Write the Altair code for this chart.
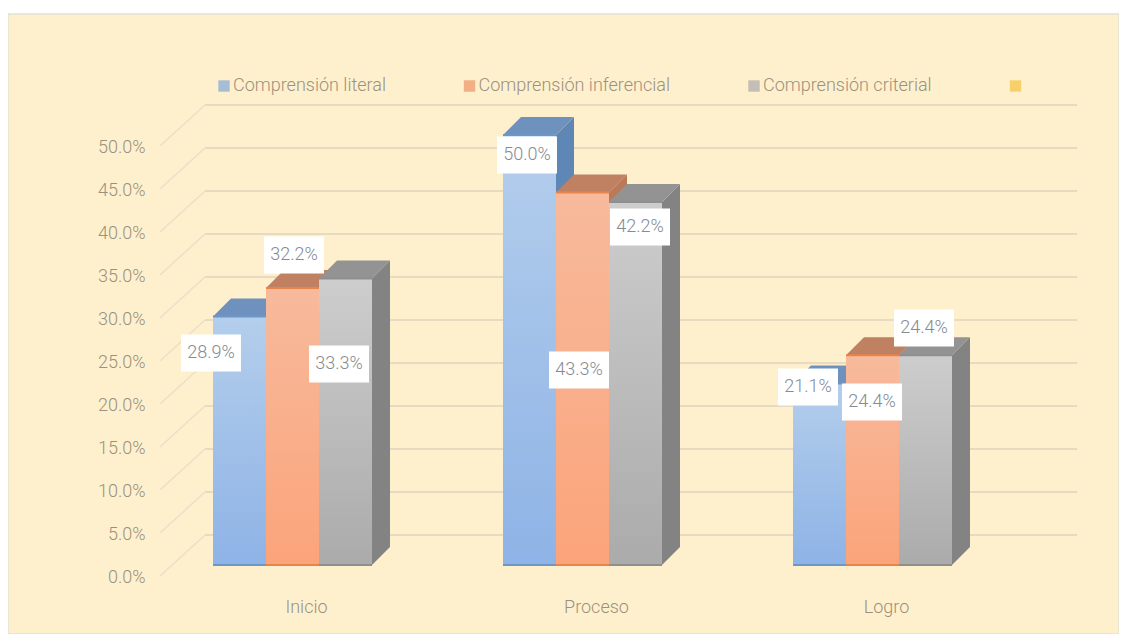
import altair as alt
import pandas as pd

# ---- values ----
categories = ["Inicio", "Proceso", "Logro"]
literal = [0.289, 0.50, 0.211]
inferencial = [0.322, 0.433, 0.244]
criterial = [0.333, 0.422, 0.244]
series_names = ["Comprensión literal", "Comprensión inferencial", "Comprensión criterial", " "]
y_ticks = [0.0, 0.05, 0.10, 0.15, 0.20, 0.25, 0.30, 0.35, 0.40, 0.45, 0.50]

# ---- layout (page pixels), separate from the values ----
WIDTH, HEIGHT, TOP = 1111, 620, 14
PX_PER_UNIT = 860.0
FRONT_ZERO = 576.0
BAR_ZERO = 565.0
BACK_ZERO = 535.0
BAR_LEFT = [213, 503, 793]
BAR_W = 53
DEPTH = 18
GRID_L, GRID_R, DIAG_L = 205, 1077, 160
CAT_CENTER = [306, 596, 886]
# label-box centre relative to each bar's top-centre
LABEL_DX = [[-28.5, -2.5, -11.5], [1.5, -3.5, -0.5], [-6.5, 4.5, -1.5]]
LABEL_DY = [[36.5, 20, 3.5], [-33, 177.4, 46.8], [85.4, 25, -27.2]]
BOX_W, BOX_H = 60, 37

FONT = "Roboto"
WEIGHT = 300
FS = 18
BG = "#FFF0CD"
GRID = "#E6DAC3"
DIAG = "#EBDFCB"
AXIS_TXT = "#9A917E"
LABEL_TXT = "#868A94"


def px(x):
    return x - 8


def py(p):
    return (FRONT_ZERO - p) / PX_PER_UNIT


lift = (FRONT_ZERO - BAR_ZERO) / PX_PER_UNIT
back = (FRONT_ZERO - BACK_ZERO) / PX_PER_UNIT
depth_y = DEPTH / PX_PER_UNIT

xs = alt.Scale(domain=[0, WIDTH], nice=False, zero=False)
ys = alt.Scale(domain=[py(TOP + HEIGHT), py(TOP)], nice=False, zero=False)

label_expr = "{" + ",".join(f"{px(c)}:'{n}'" for c, n in zip(CAT_CENTER, categories)) + "}[datum.value]"
x_axis_def = alt.Axis(
    values=[px(c) for c in CAT_CENTER], labelExpr=label_expr, domain=False, ticks=False,
    grid=False, offset=-27, labelPadding=0, labelBaseline="middle", labelAngle=0,
    labelFont=FONT, labelFontSize=FS, labelFontWeight=WEIGHT, labelColor=AXIS_TXT,
    labelOverlap=False, labelBound=False, labelFlush=False, title=None)
y_axis_def = alt.Axis(
    values=y_ticks, format=".1%", domain=False, ticks=False, grid=False,
    offset=-(145 - 8), labelPadding=0, labelOffset=1.5, labelFont=FONT, labelFontSize=FS,
    labelFontWeight=WEIGHT, labelColor=AXIS_TXT, labelOverlap=False, labelBound=False,
    labelFlush=False, title=None)


def X(f):
    return alt.X(f, type="quantitative", scale=xs, axis=x_axis_def)


def Y(f):
    return alt.Y(f, type="quantitative", scale=ys, axis=y_axis_def, stack=None)


series_values = [literal, inferencial, criterial]

# grid: back wall lines and the slanted floor-to-wall lines
grid_df = pd.DataFrame({"v": y_ticks})
grid_df["y"] = grid_df.v + back
grid_df["x1"] = px(GRID_L)
grid_df["x2"] = px(GRID_R)
grid = alt.Chart(grid_df).mark_rule(color=GRID, strokeWidth=2).encode(
    x=X("x1"), x2="x2", y=Y("y"))

diag_rows = []
for i, v in enumerate(y_ticks):
    diag_rows.append({"t": i, "x": px(DIAG_L), "y": v})
    diag_rows.append({"t": i, "x": px(GRID_L), "y": v + back})
diag = alt.Chart(pd.DataFrame(diag_rows)).mark_line(color=DIAG, strokeWidth=1.5).encode(
    x=X("x"), y=Y("y"), detail="t:N")

FRONT = [("#B4CEEC", "#8EB3E6"), ("#F7BA9C", "#FBA47A"), ("#CDCDCD", "#ABABAB")]
EDGE = ["#6C97C8", "#E8854A", "#8F8F8F"]
SIDE = ["#5F87B6", "#BB7A57", "#838383"]
TOPF = ["#6E92BD", "#C08062", "#939393"]

bar_layers = []
for s, vals in enumerate(series_values):
    side_rows, top_rows, front_rows = [], [], []
    for g, v in enumerate(vals):
        x0 = px(BAR_LEFT[g] + s * BAR_W)
        x1 = x0 + BAR_W
        base = lift
        top = v + lift
        side_rows += [
            {"b": g, "x": x1, "lo": base, "hi": top},
            {"b": g, "x": x1 + DEPTH, "lo": base + depth_y, "hi": top + depth_y},
        ]
        top_rows += [
            {"b": g, "x": x0, "lo": top, "hi": top},
            {"b": g, "x": x0 + DEPTH, "lo": top, "hi": top + depth_y},
            {"b": g, "x": x1, "lo": top, "hi": top + depth_y},
            {"b": g, "x": x1 + DEPTH, "lo": top + depth_y, "hi": top + depth_y},
        ]
        front_rows.append({"x0": x0, "x1": x1, "lo": base, "hi": top})
    bar_layers.append(alt.Chart(pd.DataFrame(side_rows)).mark_area(color=SIDE[s]).encode(
        x=X("x"), y=Y("lo"), y2="hi", detail="b:N"))
    bar_layers.append(alt.Chart(pd.DataFrame(top_rows)).mark_area(color=TOPF[s]).encode(
        x=X("x"), y=Y("lo"), y2="hi", detail="b:N"))
    grad = alt.Gradient(gradient="linear", x1=0, x2=0, y1=0, y2=1, stops=[
        alt.GradientStop(color=FRONT[s][0], offset=0),
        alt.GradientStop(color=FRONT[s][1], offset=1)])
    fdf = pd.DataFrame(front_rows)
    bar_layers.append(alt.Chart(fdf).mark_rect(color=grad).encode(
        x=X("x0"), x2="x1", y=Y("lo"), y2="hi"))
    bar_layers.append(alt.Chart(fdf).mark_rule(color=EDGE[s], strokeWidth=2).encode(
        x=X("x0"), x2="x1", y=Y("lo")))
    bar_layers.append(alt.Chart(fdf).mark_rule(color=EDGE[s], strokeWidth=2).encode(
        x=X("x0"), x2="x1", y=Y("hi")))

# data labels
lab_rows = []
for s, vals in enumerate(series_values):
    for g, v in enumerate(vals):
        cx = BAR_LEFT[g] + s * BAR_W + BAR_W / 2 + LABEL_DX[s][g]
        cy = BAR_ZERO - v * PX_PER_UNIT + LABEL_DY[s][g]
        lab_rows.append({
            "v": v, "x": px(cx), "y": py(cy),
            "x0": px(cx - BOX_W / 2), "x1": px(cx + BOX_W / 2),
            "y0": py(cy + BOX_H / 2), "y1": py(cy - BOX_H / 2)})
lab_df = pd.DataFrame(lab_rows)
boxes = alt.Chart(lab_df).mark_rect(color="#FFFFFF").encode(
    x=X("x0"), x2="x1", y=Y("y0"), y2="y1")
texts = alt.Chart(lab_df).mark_text(
    font=FONT, fontSize=FS, fontWeight=WEIGHT, color=LABEL_TXT, baseline="middle", align="center"
).encode(x=X("x"), y=Y("y"), text=alt.Text("v:Q", format=".1%"))

# legend
leg_df = pd.DataFrame({"s": series_names})
legend_layer = alt.Chart(leg_df).mark_square(size=0).encode(
    x=alt.value(0), y=alt.value(0),
    color=alt.Color("s:N", sort=series_names, title=None,
        scale=alt.Scale(domain=series_names, range=["#7FA8D8", "#EF9264", "#A9A8AD", "#F5C242"]),
        legend=alt.Legend(orient="none", legendX=207, legendY=63, direction="horizontal",
                          columns=4, columnPadding=74.5, symbolType="square", symbolSize=130,
                          labelFont=FONT, labelFontSize=FS, labelFontWeight=WEIGHT,
                          labelColor=AXIS_TXT, labelOffset=0, labelLimit=300)))

chart = alt.layer(grid, diag, *bar_layers, boxes, texts, legend_layer).resolve_scale(
    x="shared", y="shared"
).properties(
    width=WIDTH, height=HEIGHT,
    autosize=alt.AutoSizeParams(type="none"),
    padding={"left": 0, "right": 0, "bottom": 0, "top": TOP - 8},
).configure_view(fill=BG, stroke="#E3DFD3", strokeWidth=1.5)

chart.save("out.html", embed_options={"renderer": "svg", "actions": False})
